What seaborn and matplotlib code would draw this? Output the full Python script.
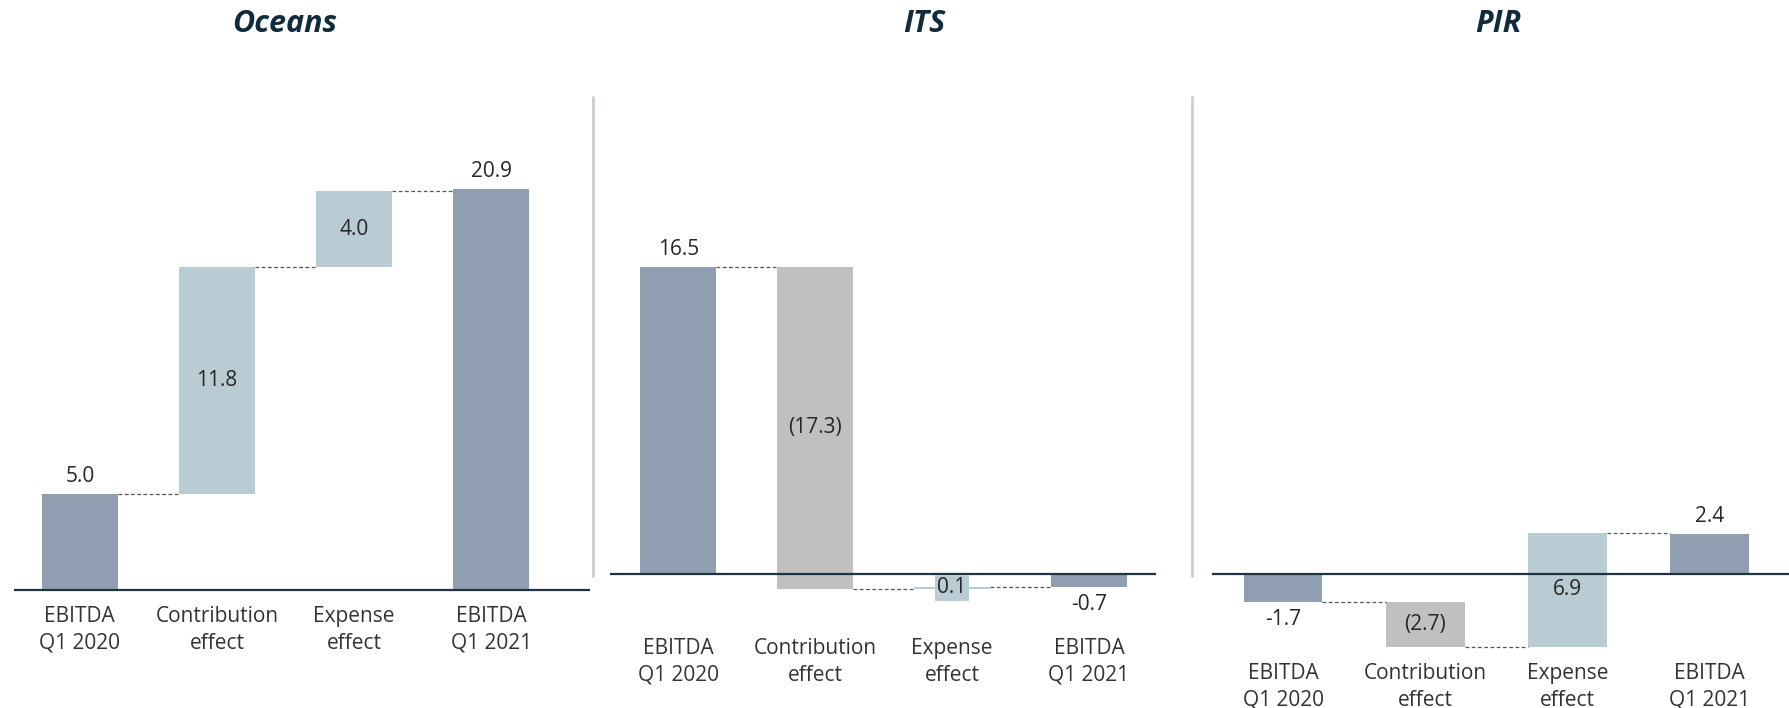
import matplotlib
matplotlib.use("Agg")
import matplotlib.pyplot as plt
import seaborn as sns
import numpy as np

sns.set_style("white")
plt.rcParams['font.family'] = ['Open Sans', 'DejaVu Sans']

categories = ["EBITDA\nQ1 2020", "Contribution\neffect", "Expense\neffect", "EBITDA\nQ1 2021"]
titles = ["Oceans", "ITS", "PIR"]
oceans_vals = [5.0, 11.8, 4.0, 20.9]
its_vals = [16.5, -17.3, 0.1, -0.7]
pir_vals = [-1.7, -2.7, 6.9, 2.4]

C_TOTAL = "#8f9eb0"
C_POS = "#b9cbd3"
C_NEG = "#c0c0c0"
C_AXIS = "#1f3340"
C_TEXT = "#262626"
C_TITLE = "#0f2b3c"

W, H = 1789, 708
fig = plt.figure(figsize=(W / 100, H / 100), dpi=100)

def px_axes(x0, x1, ytop, ybot):
    return fig.add_axes([x0 / W, 1 - ybot / H, (x1 - x0) / W, (ybot - ytop) / H])

panels = [
    dict(vals=oceans_vals, x0=14, x1=590, ytop=100, ybot=600, xlim=(-0.48, 3.72), base=590, ppu=19.2, title_x=285),
    dict(vals=its_vals, x0=610, x1=1156, ytop=100, ybot=632, xlim=(-0.5, 3.49), base=574, ppu=18.6, title_x=924),
    dict(vals=pir_vals, x0=1212, x1=1789, ytop=100, ybot=657, xlim=(-0.5, 3.56), base=574, ppu=16.5, title_x=1498),
]

FS = 15
width = 0.555
for pi, p in enumerate(panels):
    v = p["vals"]
    ax = px_axes(p["x0"], p["x1"], p["ytop"], p["ybot"])
    bottoms = [0.0, v[0], v[0] + v[1], 0.0]
    heights = [v[0], v[1], v[2], v[3]]
    ends = [v[0], v[0] + v[1], v[0] + v[1] + v[2], v[3]]
    colors = [C_TOTAL,
              C_POS if v[1] >= 0 else C_NEG,
              C_POS if v[2] >= 0 else C_NEG,
              C_TOTAL]
    sns.barplot(x=categories, y=heights, bottom=bottoms, width=width, ax=ax,
                color=C_TOTAL, linewidth=0, errorbar=None)
    for patch, c in zip(ax.patches, colors):
        patch.set_facecolor(c)
        patch.set_edgecolor("none")
    ax.set_xlim(*p["xlim"])
    ylo = -(p["ybot"] - p["base"]) / p["ppu"]
    yhi = (p["base"] - p["ytop"]) / p["ppu"]
    ax.set_ylim(ylo, yhi)
    ax.axhline(0, color=C_AXIS, lw=1.6, zorder=5)
    for i in range(3):
        lvl = ends[i]
        ax.plot([i + width / 2, i + 1 - width / 2], [lvl, lvl], ls=(0, (3, 2)),
                color="#555555", lw=0.9, zorder=1)
    for i in range(4):
        val = v[i]
        if i in (0, 3):
            txt = f"{val:.1f}"
            if val >= 0:
                ax.annotate(txt, (i, ends[i]), xytext=(0, 5), textcoords="offset points",
                            ha="center", va="bottom", fontsize=FS, color=C_TEXT)
            else:
                ax.annotate(txt, (i, ends[i]), xytext=(0, -5), textcoords="offset points",
                            ha="center", va="top", fontsize=FS, color=C_TEXT)
        else:
            txt = f"{val:.1f}" if val >= 0 else f"({abs(val):.1f})"
            mid = bottoms[i] + heights[i] / 2
            if abs(heights[i]) < 0.5:
                ax.text(i, mid, txt, ha="center", va="center", fontsize=FS, color=C_TEXT,
                        zorder=6, bbox=dict(boxstyle="square,pad=0.12", fc=C_POS, ec="none"))
            else:
                ax.text(i, mid, txt, ha="center", va="center", fontsize=FS, color=C_TEXT, zorder=6)
    ax.set_xticks(range(4))
    ax.set_xticklabels(categories, fontsize=FS, color="#333333", linespacing=1.4)
    ax.tick_params(axis="x", length=0, pad=4)
    ax.set_yticks([])
    ax.set_ylabel("")
    for s in ax.spines.values():
        s.set_visible(False)
    ax.patch.set_alpha(0)
    fig.text(p["title_x"] / W, 1 - 24 / H, titles[pi], ha="center", va="center",
             fontsize=22, fontweight="bold", fontstyle="italic", color=C_TITLE)

for xs in (593, 1192):
    fig.add_artist(plt.Line2D([xs / W, xs / W], [1 - 97 / H, 1 - 576 / H],
                              color="#c6ced6", lw=2, transform=fig.transFigure))

fig.savefig("out.png", dpi=100)
